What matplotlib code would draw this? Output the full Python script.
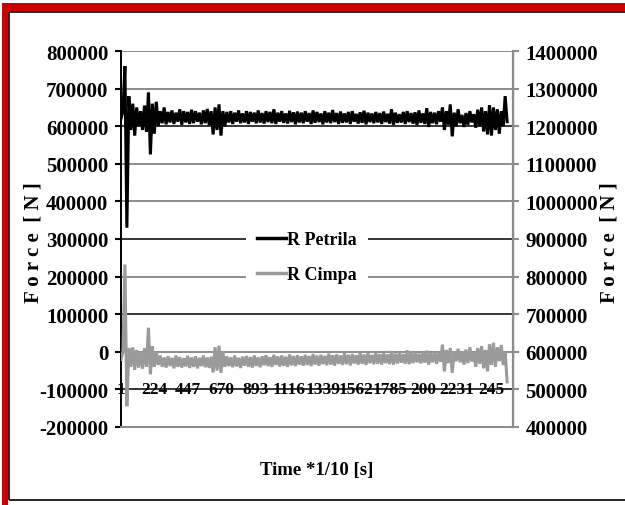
import matplotlib
matplotlib.use("Agg")
import matplotlib.pyplot as plt
from matplotlib.lines import Line2D
from matplotlib.patches import Rectangle
import numpy as np

plt.rcParams["font.family"] = ["Liberation Serif", "DejaVu Serif"]
plt.rcParams["font.weight"] = "bold"

# ── data (kN) ───────────────────────────────────────────────────────────────
STEP = 13   # samples between stored points

petrila_kn = [
    620, 640, 760, 330, 680, 590, 660, 575, 650, 600, 640, 590, 655, 585, 690, 525, 660, 580, 665, 600,
    640, 608, 650, 605, 638, 610, 642, 606, 636, 612, 645, 604, 640, 610, 638, 606, 644, 608, 640, 612,
    636, 605, 642, 608, 646, 603, 640,
    578, 650, 590, 658, 575, 640, 600,
    638, 610, 640, 606, 636, 612, 642, 608, 634, 610, 640, 606, 638, 612, 636, 608, 642, 610, 635, 607,
    640, 611, 638, 608, 645, 606, 636, 612, 640, 609, 634, 607, 641, 611, 637, 605, 639, 610, 636, 608,
    640, 612, 635, 606, 642, 609, 638, 611, 634, 605, 640, 610, 636, 608, 643, 611, 635, 606, 639, 609,
    634, 610, 638, 606, 640, 612, 633, 607, 637, 609, 641, 605, 636, 611, 634, 608, 638, 610, 635, 606,
    639, 611, 633, 607, 645, 604, 636, 609, 632, 610, 638, 606, 640, 611, 635, 607, 637, 603, 642, 609,
    634, 606, 648, 598, 638, 608, 636, 605, 640,
    612, 650, 590, 640, 604, 658, 573, 636, 600, 645,
    608, 630, 598, 635, 604, 640, 610, 632, 596, 644, 600, 650, 586, 640,
    578, 656, 575, 650, 590, 645, 580, 640, 600, 680, 612,
]

cimpa_kn = [
    580, 600, 832, 455, 610, 560, 612, 552, 605, 558, 600, 555, 610, 560, 664, 540, 615, 560, 600, 565,
    590, 560, 585, 558, 588, 562, 584, 556, 590, 560, 586, 558, 583, 561, 589, 557, 585, 560, 588, 556,
    584, 562, 590, 559, 585, 557, 587,
    545, 612, 550, 616, 544, 600, 560,
    588, 562, 585, 559, 590, 561, 584, 557, 587, 563, 589, 560, 586, 558, 590, 562, 585, 559, 588, 564,
    591, 562, 586, 560, 592, 565, 588, 561, 590, 563, 587, 560, 593, 564, 589, 562, 591, 566, 588, 563,
    592, 565, 589, 562, 594, 566, 590, 563, 592, 567, 589, 564, 595, 566, 591, 563, 593, 568, 590, 565,
    596, 567, 592, 564, 594, 569, 591, 566, 597, 568, 593, 565, 596, 570, 592, 567, 598, 568, 594, 566,
    597, 570, 593, 567, 602, 566, 595, 569, 598, 571, 594, 568, 604, 567, 596, 570, 599, 572, 595, 569,
    600, 571, 603, 566, 597, 572, 600, 568, 598,
    574, 619, 548, 605, 570, 610, 544, 600, 575, 608,
    572, 600, 566, 606, 570, 612, 574, 598, 560, 610, 568, 615, 556, 605,
    548, 620, 565, 624, 560, 612, 575, 618, 565, 600, 520,
]

x_tick_pos    = [1, 224, 447, 670, 893, 1116, 1339, 1562, 1785, 2008, 2231, 2454]
x_tick_labels = ["1", "224", "447", "670", "893", "1116", "1339", "1562", "1785", "200", "2231", "245"]
left_ticks  = list(range(-200000, 800001, 100000))
right_ticks = list(range(400000, 1400001, 100000))
dark_grid   = [600000, 300000, 100000, -100000]

GRAY = "#8c8c8c"

fig = plt.figure(figsize=(6.25, 5.06), dpi=100)
ax = fig.add_axes([0.1936, 0.1542, 0.6272, 0.743])
ax2 = ax.twinx()

samples = 1 + STEP * np.arange(len(petrila_kn))
ax.plot(samples, np.array(petrila_kn) * 1000, color="black", lw=2.2,
        solid_joinstyle="miter", zorder=3)
ax2.plot(samples, np.array(cimpa_kn) * 1000, color="#9a9a9a", lw=2.2,
         solid_joinstyle="miter", zorder=3)

ax.set_xlim(1, 2601)
ax.set_ylim(-200000, 800000)
ax2.set_ylim(400000, 1400000)

# gridlines
for v in left_ticks:
    dark = v in dark_grid
    ax.axhline(v, color="black" if dark else GRAY, lw=1.1 if dark else 1.4, zorder=1)

# category axis sits at -100000 with labels over it
ax.set_xticks([])
for pos, lab in zip(x_tick_pos, x_tick_labels):
    ax.text(pos, -100000, lab, ha="center", va="center", fontsize=12.5,
            fontweight="bold", zorder=5)

ax.set_yticks(left_ticks)
ax.set_yticklabels([str(v) for v in left_ticks], fontsize=15, fontweight="bold")
ax.tick_params(axis="y", direction="out", length=4, width=1.5, pad=5, color="black")
ax2.set_yticks(right_ticks)
ax2.set_yticklabels([str(v) for v in right_ticks], fontsize=15, fontweight="bold")
ax2.tick_params(axis="y", direction="out", length=4, width=1.5, pad=5, color=GRAY)

for a in (ax, ax2):
    a.spines["top"].set_visible(False)
    a.spines["bottom"].set_color(GRAY)
    a.spines["bottom"].set_linewidth(1.4)
ax.spines["left"].set_color("black")
ax.spines["left"].set_linewidth(1.4)
ax2.spines["left"].set_visible(False)
ax2.spines["right"].set_color(GRAY)
ax2.spines["right"].set_linewidth(1.6)

handles = [Line2D([], [], color="black", lw=2.5), Line2D([], [], color="#9a9a9a", lw=2.5)]
leg = ax2.legend(handles, ["R Petrila", "R Cimpa"], loc="center",
                 bbox_to_anchor=(0.474, 0.452), frameon=True, fancybox=False,
                 edgecolor="none", facecolor="white", framealpha=1,
                 handlelength=1.6, handletextpad=0.1, labelspacing=1.0,
                 borderpad=0.6, borderaxespad=0, prop={"size": 13, "weight": "bold"})
leg.set_zorder(10)

fig.text(0.507, 0.071, "Time *1/10 [s]", ha="center", va="center",
         fontsize=13.5, fontweight="bold")
fig.text(0.053, 0.52, "F o r c e  [ N ]", rotation=90, ha="center", va="center",
         fontsize=15, fontweight="bold")
fig.text(0.975, 0.52, "F o r c e  [ N ]", rotation=90, ha="center", va="center",
         fontsize=15, fontweight="bold")

# outer frame: red band on left/top, thin black box inside
fig.add_artist(Rectangle((0.0032, 0.0), 0.009, 0.992, transform=fig.transFigure,
                         facecolor="#cc0000", edgecolor="none"))
fig.add_artist(Rectangle((0.0032, 0.9763), 0.9968, 0.0158, transform=fig.transFigure,
                         facecolor="#cc0000", edgecolor="none"))
fig.add_artist(Rectangle((0.0144, 0.0099), 1.05, 0.9644, transform=fig.transFigure,
                         facecolor="none", edgecolor="black", lw=1.2))

fig.savefig("out.png", dpi=100)
